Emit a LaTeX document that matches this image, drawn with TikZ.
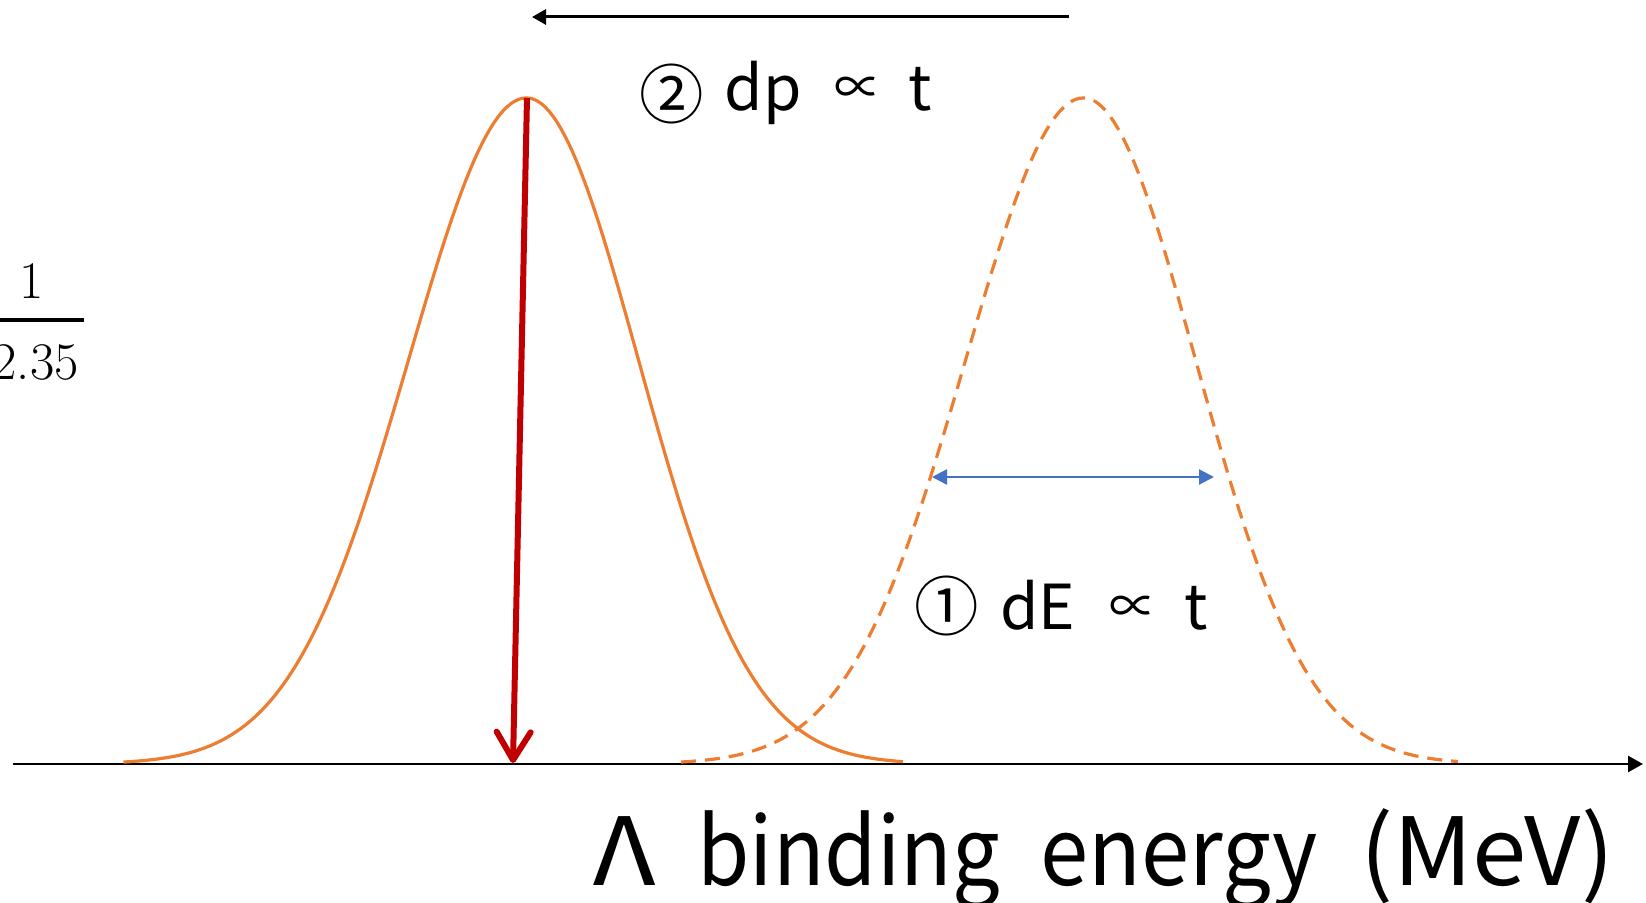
\documentclass[tikz,border=0pt]{standalone}
\usepackage{fontspec}
\setmainfont{Noto Sans CJK JP}
\newfontfamily\lmfont{Latin Modern Roman}
\usetikzlibrary{arrows.meta}
\definecolor{curveorange}{HTML}{ED7D31}
\definecolor{darkred}{HTML}{C00000}
\definecolor{arrowblue}{HTML}{4472C4}
\begin{document}
\begin{tikzpicture}[x=0.5pt,y=-0.5pt,
  axisline/.style={draw=black, line width=1.3pt, -{Triangle[length=7.5pt,width=8pt]}},
  shiftarrow/.style={draw=black, line width=1.5pt, -{Triangle[length=7pt,width=7.5pt]}},
  solidcurve/.style={draw=curveorange, line width=1.6pt},
  dashcurve/.style={draw=curveorange, line width=1.6pt, dash pattern=on 7.5pt off 4.5pt},
  redarrow/.style={draw=darkred, line width=3pt, -{Straight Barb[length=14pt,width=17pt,line cap=round,line join=round]}},
  widtharrow/.style={draw=arrowblue, line width=1.2pt, {Triangle[length=7.5pt,width=7.5pt]}-{Triangle[length=7.5pt,width=7.5pt]}},
  lbl/.style={inner sep=0pt, font=\fontsize{31}{36}\selectfont},
  axlbl/.style={inner sep=0pt, font=\fontsize{47}{54}\selectfont},
  fraclbl/.style={inner sep=0pt, font=\lmfont\fontsize{26.4}{30}\selectfont}]
\useasboundingbox (0,0) rectangle (1646,903);

% axis
\coordinate (ax0) at (13,764);
\coordinate (ax1) at (1643,764);
\draw[axisline] (ax0) -- (ax1);

% solid gaussian
\draw[solidcurve] plot[domain=123.5:526.5,samples=100] (\x,{764-666*exp(-0.5*((\x-526.5)/118)^2)})
  -- plot[domain=526.5:903,samples=100] (\x,{764-666*exp(-0.5*((\x-526.5)/112)^2)});

% dashed gaussian
\draw[dashcurve] plot[domain=681:1083.6,samples=100] (\x,{764-666*exp(-0.5*((\x-1083.6)/118)^2)})
  -- plot[domain=1083.6:1458,samples=100] (\x,{764-666*exp(-0.5*((\x-1083.6)/112)^2)});

% red arrow from peak to axis
\coordinate (peak) at (527,98);
\coordinate (foot) at (513,763);
\draw[redarrow] (peak) -- (foot);

% shift arrow on top
\coordinate (s0) at (1069,17);
\coordinate (s1) at (532,17);
\draw[shiftarrow] (s0) -- (s1);

% width arrow
\coordinate (w0) at (932,477);
\coordinate (w1) at (1214,477);
\draw[widtharrow] (w0) -- (w1);

% labels
\node[lbl, anchor=base west] (dp) at (638.8,110.5)
  {\raisebox{-4pt}{\scalebox{1.04}{②}}\hspace{10.5pt}dp\hspace{16.5pt}\raisebox{3pt}{\scalebox{0.77}{∝}}\hspace{13pt}t};
\node[lbl, anchor=base west] (dE) at (914.5,630)
  {\raisebox{-0.5pt}{\scalebox{1.04}{①}}\hspace{10.5pt}dE\hspace{17pt}\raisebox{3pt}{\scalebox{0.77}{∝}}\hspace{13.5pt}t};
\node[axlbl, anchor=base west] (xlabel) at (593,885)
  {\scalebox{1.15}[1]{Λ}\hspace{21pt}\scalebox{0.9}[1]{binding}\hspace{20.5pt}\scalebox{0.923}[1]{energy}\hspace{21pt}\scalebox{1.04}[1]{(MeV)}};

% fraction (cut at left edge)
\node[fraclbl, anchor=base] (num) at (31.5,299) {1};
\node[fraclbl, anchor=base east] (den) at (79,380) {2.35};
\coordinate (b0) at (-5,320);
\coordinate (b1) at (84,320);
\draw[line width=2pt] (b0) -- (b1);
\end{tikzpicture}
\end{document}
